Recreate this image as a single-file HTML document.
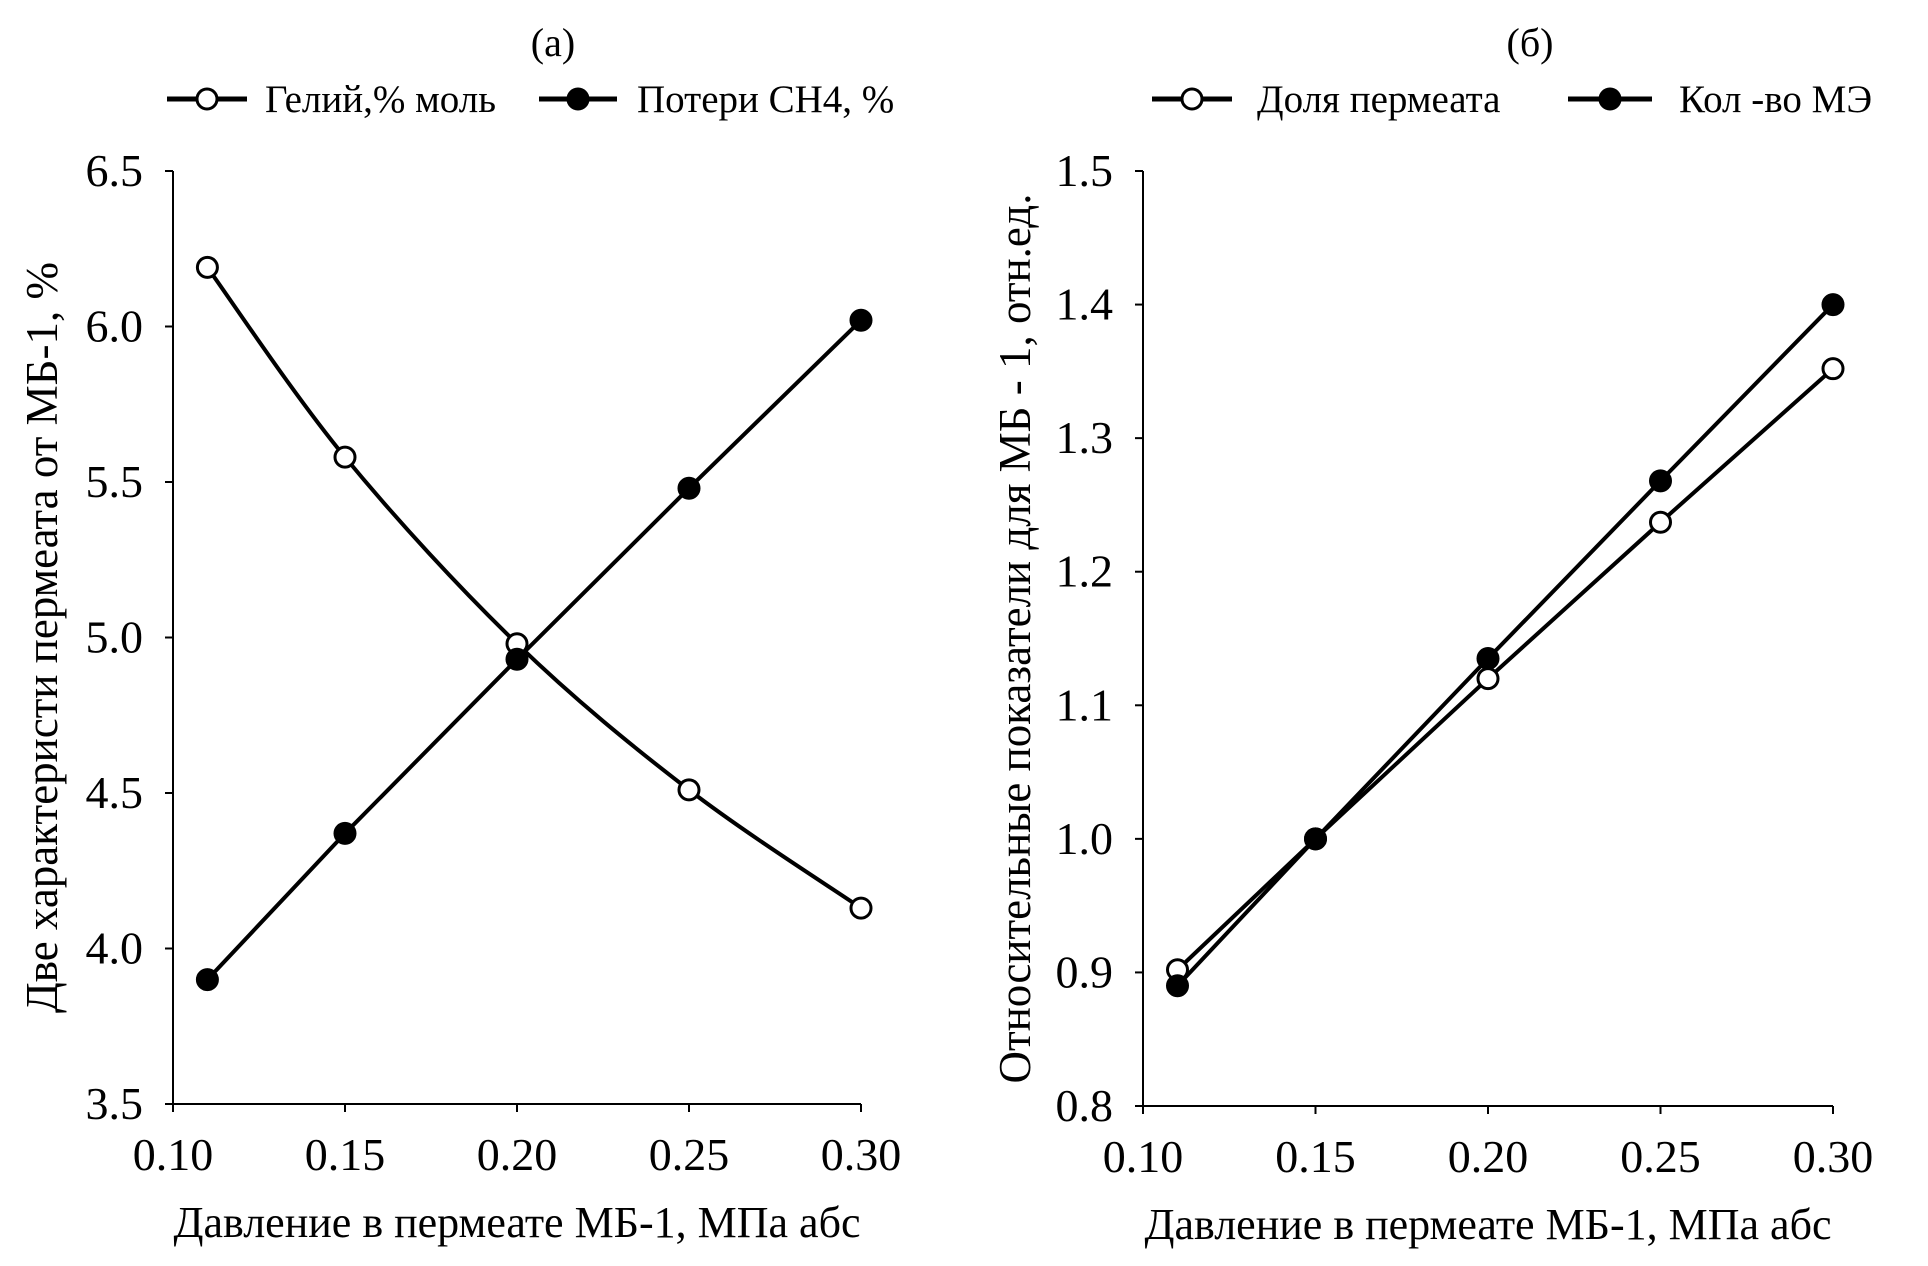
<!DOCTYPE html>
<html><head><meta charset="utf-8"><style>
body{margin:0;background:#fff}
svg{display:block}
text{font-family:"Liberation Serif","DejaVu Serif",serif;fill:#000}
</style></head><body>
<svg id="c" width="1928" height="1266" viewBox="0 0 1928 1266"></svg>
<script>
const xTicks=[0.10,0.15,0.20,0.25,0.30];
const xCats=[0.11,0.15,0.20,0.25,0.30];
const aTicks=[3.5,4.0,4.5,5.0,5.5,6.0,6.5];
const heliumVals=[6.19,5.58,4.98,4.51,4.13];
const ch4Vals=[3.90,4.37,4.93,5.48,6.02];
const bTicks=[0.8,0.9,1.0,1.1,1.2,1.3,1.4,1.5];
const permVals=[0.902,1.0,1.12,1.237,1.352];
const meVals=[0.89,1.0,1.135,1.268,1.40];

const svg=document.getElementById('c');
const NS='http://www.w3.org/2000/svg';
function mk(tag,attrs,parent){const e=document.createElementNS(NS,tag);for(const k in attrs)e.setAttribute(k,attrs[k]);(parent||svg).appendChild(e);return e;}
function txt(s,attrs,parent){const e=mk('text',attrs,parent);e.textContent=s;return e;}

function smoothPath(pts){
  let d='M'+pts[0][0]+','+pts[0][1];
  for(let i=0;i<pts.length-1;i++){
    const p0=pts[i-1]||pts[i],p1=pts[i],p2=pts[i+1],p3=pts[i+2]||p2;
    const t=0.5/3;
    d+=' C'+(p1[0]+(p2[0]-p0[0])*t)+','+(p1[1]+(p2[1]-p0[1])*t)+' '+(p2[0]-(p3[0]-p1[0])*t)+','+(p2[1]-(p3[1]-p1[1])*t)+' '+p2[0]+','+p2[1];
  }
  return d;
}

function chart(cfg){
  const g=mk('g',{});
  
  
  const X=v=>cfg.x0+(v-0.10)/(0.20)*(cfg.x1-cfg.x0);
  const Y=v=>cfg.yb+(v-cfg.ymin)/(cfg.ymax-cfg.ymin)*(cfg.yt-cfg.yb);
  const ax=mk('path',{d:`M${cfg.x0},${cfg.yt}V${cfg.yb}H${cfg.x1}`,stroke:'#000','stroke-width':2,fill:'none'},g);
  
  
  cfg.yTicks.forEach(v=>{
    mk('line',{x1:cfg.x0-8,x2:cfg.x0,y1:Y(v),y2:Y(v),stroke:'#000','stroke-width':2},g);
    const t=txt(v.toFixed(1),{x:cfg.x0-30,y:Y(v)+15,'font-size':46,'text-anchor':'end'},g);
    
    
  });
  xTicks.forEach(v=>{
    mk('line',{x1:X(v),x2:X(v),y1:cfg.yb,y2:cfg.yb+8,stroke:'#000','stroke-width':2},g);
    const t=txt(v.toFixed(2),{x:X(v),y:cfg.yb+66,'font-size':46,'text-anchor':'middle'},g);
    
    
  });
  const xt=txt('Давление в пермеате МБ-1, МПа абс',{x:(cfg.x0+cfg.x1)/2,y:cfg.yb+133,'font-size':44,'text-anchor':'middle'},g);
  
  
  const yt=txt(cfg.ytitle,{x:0,y:0,'font-size':45,'text-anchor':'middle',transform:`translate(${cfg.ytx},${(cfg.yt+cfg.yb)/2}) rotate(-90)`},g);
  
  
  const tt=txt(cfg.title,{x:cfg.titleX,y:56,'font-size':40,'text-anchor':'middle'},g);
  
  
  cfg.series.forEach(s=>{
    const pts=xCats.map((c,i)=>[X(c),Y(s.vals[i])]);
    const d=s.smooth?smoothPath(pts):'M'+pts.map(p=>p.join(',')).join('L');
    const p=mk('path',{d,stroke:'#000','stroke-width':4,fill:'none'},g);
    
    
    pts.forEach(pt=>{
      const c=mk('circle',{cx:pt[0],cy:pt[1],r:10,fill:s.open?'#fff':'#000',stroke:'#000','stroke-width':3},g);
      
      
    });
    const lg=mk('g',{},g);
    
    
    mk('line',{x1:s.lx0,x2:s.lx1,y1:99,y2:99,stroke:'#000','stroke-width':5},lg);
    mk('circle',{cx:(s.lx0+s.lx1)/2,cy:99,r:10,fill:s.open?'#fff':'#000',stroke:'#000','stroke-width':3},lg);
    txt(s.label,{x:s.tx,y:112,'font-size':39},lg);
  });
}

chart({name:'chart-a',x0:173,x1:861,yt:171,yb:1104,ymin:3.5,ymax:6.5,yTicks:aTicks,
  ytitle:'Две характеристи пермеата от МБ-1, %',ytx:57,title:'(а)',titleX:553,
  series:[{name:'helium',vals:heliumVals,open:true,smooth:true,label:'Гелий,% моль',lx0:167,lx1:247,tx:265},
          {name:'ch4-loss',vals:ch4Vals,open:false,smooth:false,label:'Потери СН4, %',lx0:539,lx1:617,tx:637}]});
chart({name:'chart-b',x0:1143,x1:1833,yt:171,yb:1106,ymin:0.8,ymax:1.5,yTicks:bTicks,
  ytitle:'Относительные показатели для МБ - 1, отн.ед.',ytx:1030,title:'(б)',titleX:1530,
  series:[{name:'permeate-share',vals:permVals,open:true,smooth:false,label:'Доля пермеата',lx0:1152,lx1:1232,tx:1257},
          {name:'me-count',vals:meVals,open:false,smooth:false,label:'Кол -во МЭ',lx0:1568,lx1:1652,tx:1679}]});
</script>
</body></html>
